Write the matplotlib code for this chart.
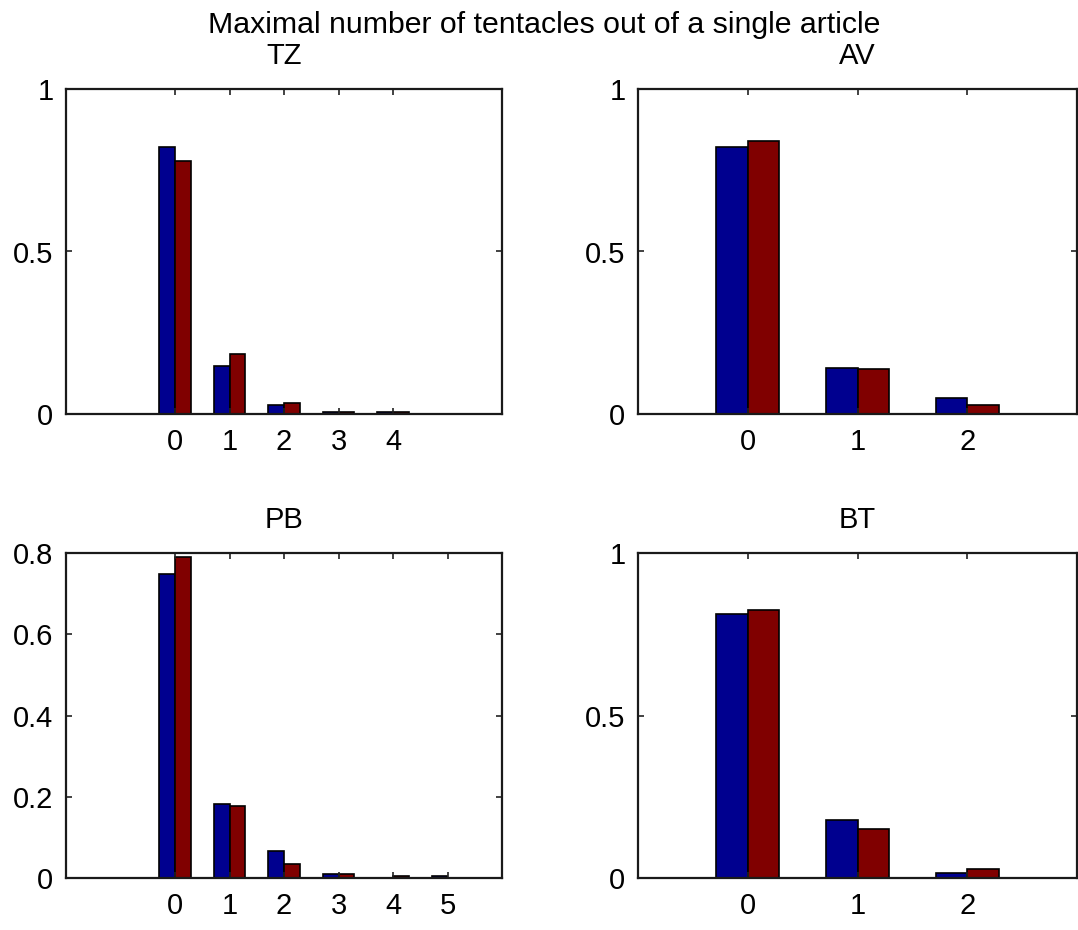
import numpy as np
import matplotlib
matplotlib.use("Agg")
import matplotlib.pyplot as plt

plt.rcParams['font.family'] = ['Liberation Sans', 'DejaVu Sans']

# fraction of articles by max number of tentacles, two series per panel
tz_x = [0, 1, 2, 3, 4]
tz_a = [0.822, 0.149, 0.028, 0.007, 0.007]
tz_b = [0.778, 0.185, 0.035, 0.007, 0.007]

av_x = [0, 1, 2]
av_a = [0.820, 0.142, 0.050]
av_b = [0.840, 0.137, 0.028]

pb_x = [0, 1, 2, 3, 4, 5]
pb_a = [0.748, 0.182, 0.067, 0.011, 0.0, 0.005]
pb_b = [0.789, 0.177, 0.034, 0.011, 0.005, 0.0]

bt_x = [0, 1, 2]
bt_a = [0.812, 0.180, 0.014]
bt_b = [0.825, 0.151, 0.029]

blue = '#00008f'
red = '#800000'

fig = plt.figure(figsize=(10.78, 9.3), dpi=100)

left_x, left_w = 66 / 1078, 436 / 1078
right_x, right_w = 638 / 1078, 439 / 1078
top_y, bot_y, h = (930 - 414) / 930, (930 - 878) / 930, 325 / 930

panels = [
    ("TZ", [left_x, top_y, left_w, h], tz_x, tz_a, tz_b, (-2, 6), (0, 1), [0, 0.5, 1]),
    ("AV", [right_x, top_y, right_w, h], av_x, av_a, av_b, (-1, 3), (0, 1), [0, 0.5, 1]),
    ("PB", [left_x, bot_y, left_w, h], pb_x, pb_a, pb_b, (-2, 6), (0, 0.8), [0, 0.2, 0.4, 0.6, 0.8]),
    ("BT", [right_x, bot_y, right_w, h], bt_x, bt_a, bt_b, (-1, 3), (0, 1), [0, 0.5, 1]),
]

w = 2 / 3.5 / 2  # grouped bar width, two series
for name, pos, x, a, b, xl, yl, yt in panels:
    ax = fig.add_axes(pos)
    x = np.array(x)
    ax.bar(x - w / 2, a, w, color=blue, edgecolor='black', linewidth=1.2)
    ax.bar(x + w / 2, b, w, color=red, edgecolor='black', linewidth=1.2)
    ax.set_xlim(*xl)
    ax.set_ylim(*yl)
    ax.set_xticks(x)
    ax.set_yticks(yt)
    ax.set_xticklabels([str(v) for v in x])
    ax.set_yticklabels(['0' if v == 0 else ('1' if v == 1 else '%g' % v) for v in yt])
    ax.tick_params(direction='in', length=4, width=1.2, top=True, right=True,
                   labelsize=21, colors='#222222', labelcolor='black')
    ax.tick_params(axis='x', pad=10)
    ax.tick_params(axis='y', pad=9)
    for s in ax.spines.values():
        s.set_linewidth(1.6)
        s.set_color('#1a1a1a')
    ax.set_title(name, fontsize=21, pad=18)

fig.text(0.505, 0.965, "Maximal number of tentacles out of a single article",
         ha='center', va='baseline', fontsize=21.8)

fig.savefig("out.png", dpi=100)
